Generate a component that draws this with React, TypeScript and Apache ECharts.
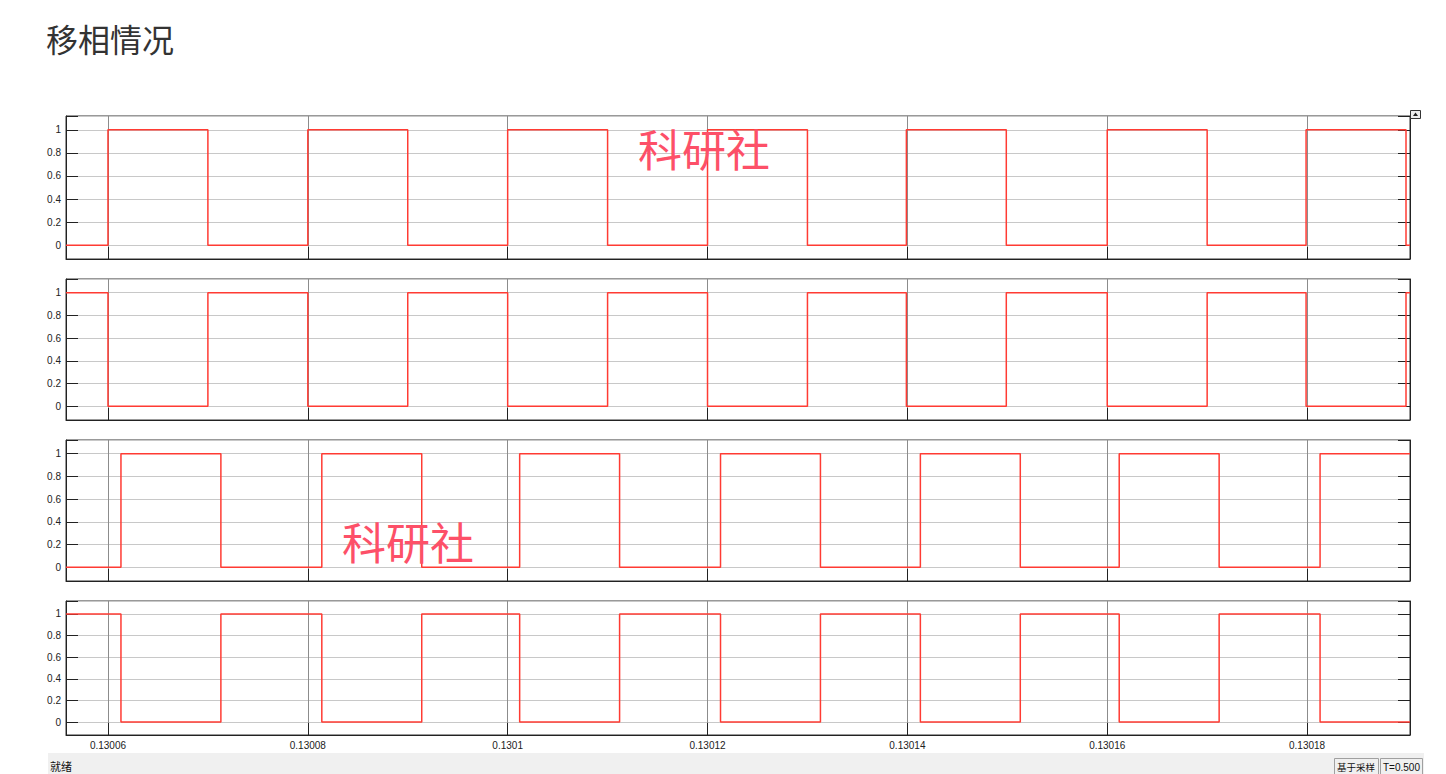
import React, { useEffect, useRef } from "react";
import * as echarts from "echarts";

// Time axis in microseconds (labels shown in seconds)
const X_MIN = 130055.8;
const X_MAX = 130190.3;
const Y_MIN = -0.12;
const Y_MAX = 1.12;

// Panel 1 (carrier 1)
const p1Times = [130055.8, 130060.0, 130070.0, 130080.0, 130090.0, 130100.0, 130110.0, 130120.0, 130130.0, 130139.9, 130149.9, 130160.0, 130170.0, 130179.9, 130189.9];
const p1Values = [0, 1, 0, 1, 0, 1, 0, 1, 0, 1, 0, 1, 0, 1, 0];
// Panel 2 (inverse of 1)
const p2Times = [130055.8, 130060.0, 130070.0, 130080.0, 130090.0, 130100.0, 130110.0, 130120.0, 130130.0, 130139.9, 130149.9, 130160.0, 130170.0, 130179.9, 130189.9];
const p2Values = [1, 0, 1, 0, 1, 0, 1, 0, 1, 0, 1, 0, 1, 0, 1];
// Panel 3 (phase shifted)
const p3Times = [130055.8, 130061.3, 130071.3, 130081.4, 130091.4, 130101.2, 130111.2, 130121.3, 130131.3, 130141.3, 130151.3, 130161.2, 130171.2, 130181.3];
const p3Values = [0, 1, 0, 1, 0, 1, 0, 1, 0, 1, 0, 1, 0, 1];
// Panel 4 (inverse of 3)
const p4Times = [130055.8, 130061.3, 130071.3, 130081.4, 130091.4, 130101.2, 130111.2, 130121.3, 130131.3, 130141.3, 130151.3, 130161.2, 130171.2, 130181.3];
const p4Values = [1, 0, 1, 0, 1, 0, 1, 0, 1, 0, 1, 0, 1, 0];

const panels = [
  { times: p1Times, values: p1Values },
  { times: p2Times, values: p2Values },
  { times: p3Times, values: p3Values },
  { times: p4Times, values: p4Values },
];

const TITLE = "移相情况";
const WATERMARK = "科研社";

const gridLayout = [
  { top: 116, height: 143 },
  { top: 279, height: 141 },
  { top: 440, height: 141 },
  { top: 601, height: 134 },
];

const LINE_COLOR = "#ff3b33";
const FONT = "'Liberation Sans', Arial, sans-serif";
const CJK = "'Noto Sans CJK SC', 'Noto Sans', sans-serif";

function build(times: number[], values: number[]) {
  const pts: number[][] = times.map((t, i) => [t, values[i]]);
  pts.push([X_MAX, values[values.length - 1]]);
  return pts;
}

export default function App() {
  const ref = useRef<HTMLDivElement>(null);
  useEffect(() => {
    if (!ref.current) return;
    const chart = echarts.init(ref.current, null, { renderer: "svg" });
    const grids: any[] = [];
    const xAxes: any[] = [];
    const yAxes: any[] = [];
    const series: any[] = [];
    panels.forEach((p, i) => {
      const g = gridLayout[i];
      grids.push({
        left: 66,
        width: 1344,
        top: g.top,
        height: g.height,
        show: true,
        borderColor: "#333",
        borderWidth: 1,
        backgroundColor: "#fff",
      });
      xAxes.push({
        type: "value",
        gridIndex: i,
        min: X_MIN,
        max: X_MAX,
        splitNumber: 7,
        minInterval: 20,
        maxInterval: 20,
        axisLine: { show: true, onZero: false, lineStyle: { color: "#222" } },
        axisTick: { show: true, inside: true, length: 12, lineStyle: { color: "#222" } },
        axisLabel: {
          show: i === 3,
          showMinLabel: false,
          showMaxLabel: false,
          margin: 5,
          color: "#222",
          fontSize: 10,
          fontFamily: FONT,
          formatter: (v: number) => {
            if (Math.abs(v - Math.round(v / 20) * 20) > 0.01) return "";
            return String(parseFloat((v / 1e6).toFixed(6)));
          },
        },
        splitLine: { show: true, lineStyle: { color: "#8c8c8c", width: 1 } },
      });
      yAxes.push({
        type: "value",
        gridIndex: i,
        min: Y_MIN,
        max: Y_MAX,
        splitNumber: 6,
        minInterval: 0.2,
        maxInterval: 0.2,
        axisLine: { show: true, lineStyle: { color: "#222" } },
        axisTick: { show: true, inside: true, length: 12, lineStyle: { color: "#222" } },
        axisLabel: {
          margin: 5,
          color: "#222",
          fontSize: 10,
          fontFamily: FONT,
          formatter: (v: number) => {
            if (Math.abs(v * 5 - Math.round(v * 5)) > 0.01) return "";
            return String(Math.round(v * 10) / 10);
          },
        },
        splitLine: { show: true, lineStyle: { color: "#c8c8c8", width: 1 } },
      });
      yAxes.push({
        type: "value",
        gridIndex: i,
        position: "right",
        min: Y_MIN,
        max: Y_MAX,
        splitNumber: 6,
        minInterval: 0.2,
        maxInterval: 0.2,
        axisLine: { show: true, lineStyle: { color: "#222" } },
        axisTick: { show: true, inside: true, length: 12, lineStyle: { color: "#222" } },
        axisLabel: { show: false },
        splitLine: { show: false },
      });
      series.push({
        type: "line",
        xAxisIndex: i,
        yAxisIndex: i * 2,
        step: "end",
        showSymbol: false,
        symbol: "none",
        data: build(p.times, p.values),
        lineStyle: { color: LINE_COLOR, width: 1.5 },
        z: 5,
      });
    });

    chart.setOption({
      animation: false,
      backgroundColor: "#fff",
      title: {
        text: TITLE,
        left: 41,
        top: 17,
        textStyle: { fontSize: 32, fontWeight: "normal", color: "#333", fontFamily: CJK },
      },
      grid: grids,
      xAxis: xAxes,
      yAxis: yAxes,
      series,
      graphic: [
        {
          type: "text",
          x: 638,
          y: 148,
          z: 100,
          style: {
            text: WATERMARK,
            fill: "#fd5068",
            fontSize: 44,
            fontFamily: CJK,
            verticalAlign: "middle",
          },
        },
        {
          type: "text",
          x: 342,
          y: 541,
          z: 100,
          style: {
            text: WATERMARK,
            fill: "#fd5068",
            fontSize: 44,
            fontFamily: CJK,
            verticalAlign: "middle",
          },
        },
        // status bar
        {
          type: "rect",
          shape: { x: 48, y: 753, width: 1376, height: 21 },
          style: { fill: "#f0f0f0" },
          z: 50,
        },
        {
          type: "text",
          x: 50,
          y: 766,
          z: 51,
          style: { text: "就绪", fill: "#111", fontSize: 11, fontFamily: CJK, verticalAlign: "middle" },
        },
        {
          type: "rect",
          shape: { x: 1334.5, y: 758.5, width: 44, height: 16 },
          style: { fill: "#f0f0f0", stroke: "#a0a0a0", lineWidth: 1 },
          z: 51,
        },
        {
          type: "text",
          x: 1337,
          y: 767,
          z: 52,
          style: { text: "基于采样", fill: "#111", fontSize: 9.5, fontFamily: CJK, verticalAlign: "middle" },
        },
        {
          type: "rect",
          shape: { x: 1380.5, y: 758.5, width: 42, height: 16 },
          style: { fill: "#f0f0f0", stroke: "#a0a0a0", lineWidth: 1 },
          z: 51,
        },
        {
          type: "text",
          x: 1383,
          y: 767,
          z: 52,
          style: { text: "T=0.500", fill: "#111", fontSize: 10, fontFamily: FONT, verticalAlign: "middle" },
        },
        // small expand icon
        {
          type: "rect",
          shape: { x: 1410.5, y: 110.5, width: 10, height: 8 },
          style: { fill: "#eee", stroke: "#333", lineWidth: 1 },
          z: 51,
        },
        {
          type: "polygon",
          shape: { points: [[1413, 116], [1418, 116], [1415.5, 112.5]] },
          style: { fill: "#222" },
          z: 52,
        },
      ],
    });
    return () => chart.dispose();
  }, []);
  return (
    <div
      ref={ref}
      style={{ position: "fixed", left: 0, top: 0, width: 1446, height: 774, background: "#fff" }}
    />
  );
}
